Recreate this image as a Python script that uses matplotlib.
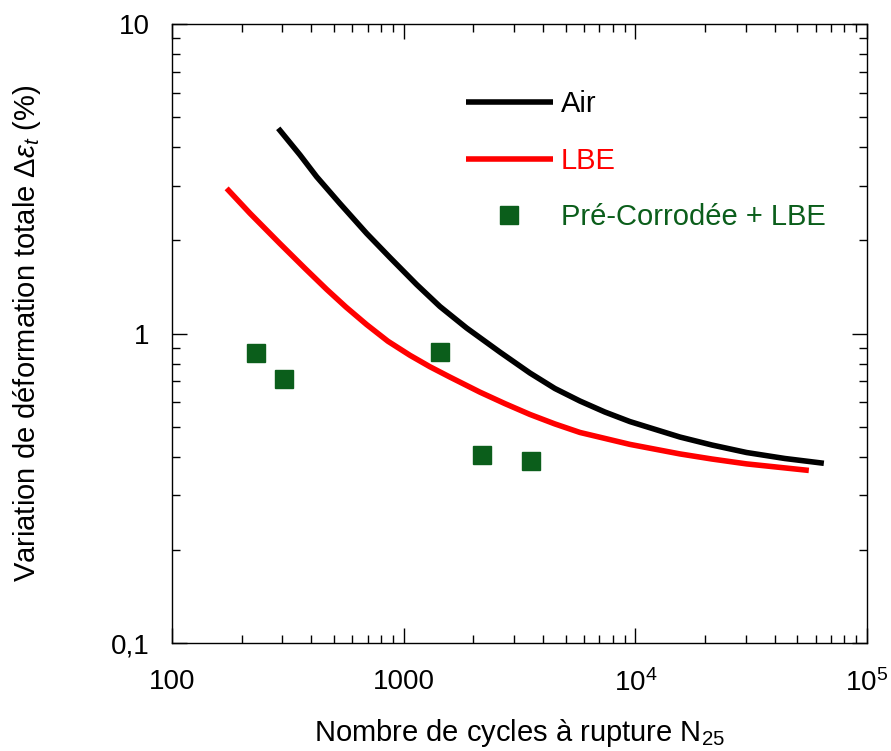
import matplotlib
matplotlib.use('Agg')
import matplotlib.pyplot as plt
from matplotlib.ticker import FixedLocator, FixedFormatter, LogLocator, NullFormatter

plt.rcParams['font.family'] = ['Liberation Sans', 'DejaVu Sans']
plt.rcParams['mathtext.fontset'] = 'custom'
plt.rcParams['mathtext.rm'] = 'Liberation Sans'
plt.rcParams['mathtext.it'] = 'Liberation Sans:italic'

# courbe Air
air_n = [287.6, 356.7, 421.2, 531, 692, 873, 1138, 1434, 1870, 2604, 3509, 4498,
         5768, 7393, 9478, 15577, 21410, 30220, 44240, 65160]
air_eps = [4.603, 3.779, 3.211, 2.630, 2.107, 1.760, 1.440, 1.223, 1.042, 0.871, 0.7455, 0.6643,
           0.6052, 0.5576, 0.5194, 0.4630, 0.4363, 0.4126, 0.3946, 0.3808]

# courbe LBE
lbe_n = [172.2, 217.1, 292.5, 375, 465.3, 563.6, 692, 855.3, 1065, 1299, 1585, 2135, 2736,
         3509, 4498, 5768, 9478, 15577, 21410, 30220, 56120]
lbe_eps = [2.945, 2.446, 1.952, 1.624, 1.389, 1.218, 1.069, 0.9443, 0.8504, 0.7810, 0.7231, 0.6465, 0.5937,
           0.5477, 0.5103, 0.4790, 0.4383, 0.4083, 0.3931, 0.3791, 0.3611]

# essais pre-corrodes + LBE
pc_n = [230, 304, 1439, 2183, 3554]
pc_eps = [0.863, 0.711, 0.873, 0.405, 0.386]

green = '#0b5e1b'

fig = plt.figure(figsize=(8.91, 7.51), dpi=100)
ax = fig.add_axes([0.193, 0.1438, 0.780, 0.8242])

ax.plot(air_n, air_eps, color='black', lw=4, solid_capstyle='butt', solid_joinstyle='round', label='Air')
ax.plot(lbe_n, lbe_eps, color='red', lw=4, solid_capstyle='butt', solid_joinstyle='round', label='LBE')
ax.plot(pc_n, pc_eps, 's', color=green, ms=12.5, ls='none', label='Pré-Corrodée + LBE')

ax.set_xscale('log')
ax.set_yscale('log')
ax.set_xlim(100, 1e5)
ax.set_ylim(0.1, 10)

ax.xaxis.set_major_locator(FixedLocator([100, 1000, 1e4, 1e5]))
ax.xaxis.set_major_formatter(FixedFormatter(['100', '1000', r'10$^4$', r'10$^5$']))
ax.yaxis.set_major_locator(FixedLocator([0.1, 1, 10]))
ax.yaxis.set_major_formatter(FixedFormatter(['0,1', '1', '10']))
for axis in (ax.xaxis, ax.yaxis):
    axis.set_minor_locator(LogLocator(base=10, subs=range(2, 10)))
    axis.set_minor_formatter(NullFormatter())

ax.tick_params(which='both', direction='in', top=True, right=True, width=1, labelsize=20)
ax.tick_params(which='major', length=10.5)
ax.tick_params(which='minor', length=5.8)
ax.tick_params(axis='x', which='major', pad=19)
ax.tick_params(axis='y', which='major', pad=16)
for s in ax.spines.values():
    s.set_linewidth(1)

ax.set_xlabel('Nombre de cycles à rupture N$_{25}$', fontsize=21)
ax.set_ylabel(r'Variation de déformation totale $\Delta\varepsilon_t$ (%)', fontsize=21)
ax.xaxis.set_label_coords(0.5, -0.119)
ax.yaxis.set_label_coords(-0.186, 0.5)

leg = ax.legend(loc='upper left', bbox_to_anchor=(0.423, 0.893), frameon=False,
                fontsize=21, handlelength=2.98, handletextpad=0.27, labelspacing=0.98,
                borderpad=0, borderaxespad=0,
                labelcolor=['black', 'red', green])

fig.savefig('out.png', dpi=100)
